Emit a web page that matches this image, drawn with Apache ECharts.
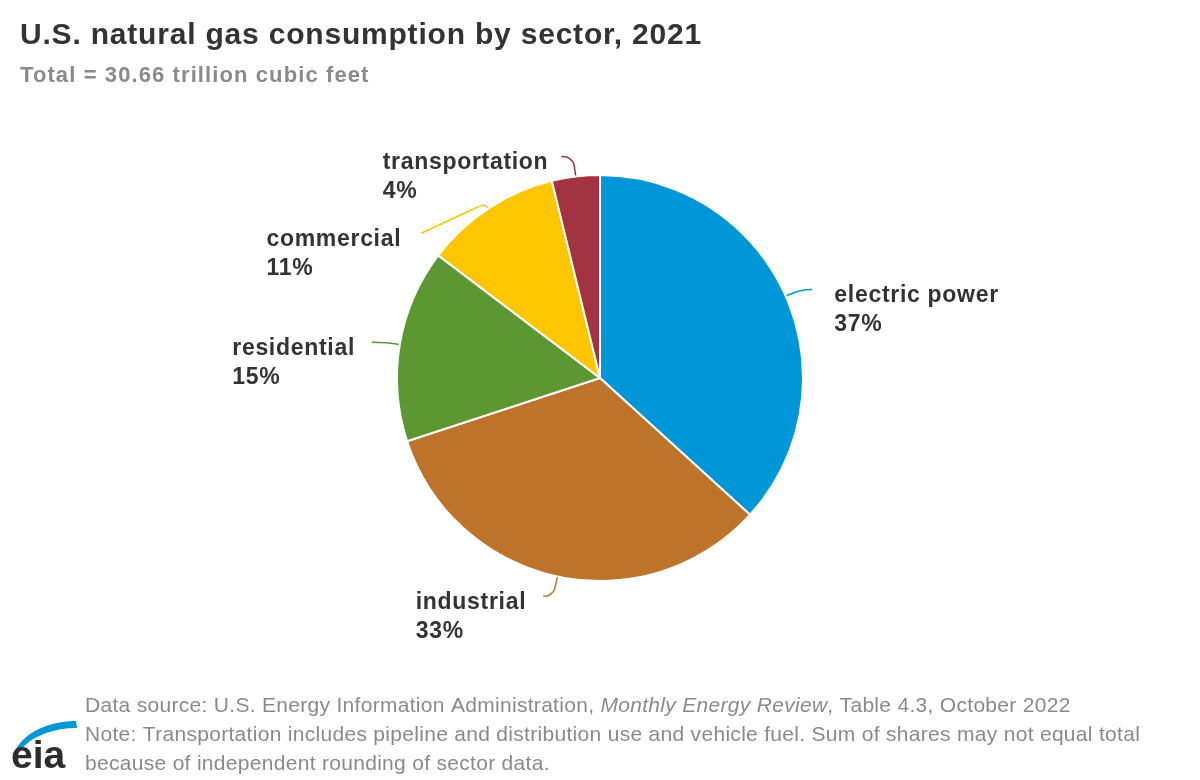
<!DOCTYPE html>
<html>
<head>
<meta charset="utf-8">
<script src="https://cdn.jsdelivr.net/npm/echarts@6/dist/echarts.min.js"></script>
<style>
html,body{margin:0;padding:0;background:#ffffff;}
#chart{width:1200px;height:780px;}
</style>
</head>
<body>
<div id="chart"></div>
<script>
// ---- data ----
const categories = ['electric power', 'industrial', 'residential', 'commercial', 'transportation'];
const values = [11.27, 10.18, 4.71, 3.33, 1.17]; // trillion cubic feet, 2021
const colors = ['#0096d7', '#bd732a', '#5d9732', '#fec600', '#a33340'];
const titleText = 'U.S. natural gas consumption by sector, 2021';
const subtitleText = 'Total = 30.66 trillion cubic feet';
const sourceLine1a = 'Data source: U.S. Energy Information Administration, ';
const sourceLine1b = 'Monthly Energy Review';
const sourceLine1c = ', Table 4.3, October 2022';
const noteLine2 = 'Note: Transportation includes pipeline and distribution use and vehicle fuel. Sum of shares may not equal total';
const noteLine3 = 'because of independent rounding of sector data.';

// ---- text tracking (the reference typography is slightly letter-spaced) ----
(function () {
  const P = window.CanvasRenderingContext2D && CanvasRenderingContext2D.prototype;
  if (!P || !('letterSpacing' in P)) return;
  const trackBySize = {30: 0.8, 22: 1.1, 23: 0.7, 21: 0.3};
  function track(font) {
    const m = /(\d+(?:\.\d+)?)px/.exec(font || '');
    const s = m ? Math.round(parseFloat(m[1])) : 0;
    return (trackBySize[s] || 0) + 'px';
  }
  const ft = P.fillText, mt = P.measureText;
  P.fillText = function () { this.letterSpacing = track(this.font); return ft.apply(this, arguments); };
  P.measureText = function () { this.letterSpacing = track(this.font); return mt.apply(this, arguments); };
})();

const FONT = '"Liberation Sans", Arial, Helvetica, sans-serif';
const chart = echarts.init(document.getElementById('chart'), null, {renderer: 'canvas'});

// label-line styling per sector (lengths in px, end nudge, label gap)
const lineStyleBySector = {
  'electric power': {length: 16, length2: 12, gap: 22},
  'industrial': {length: 20, length2: 10, gap: 17},
  'residential': {length: 14, length2: 14, gap: 17},
  'commercial': {length: 6, length2: 64, gap: 20, endDy: 30},
  'transportation': {length: 20, length2: 12, gap: 13}
};

const pieData = categories.map((name, i) => ({
  name: name,
  value: values[i],
  itemStyle: {color: colors[i]},
  labelLine: {
    length: lineStyleBySector[name].length,
    length2: lineStyleBySector[name].length2,
    lineStyle: {color: colors[i]}
  }
}));

// logo swoosh (crescent built from two elliptical arcs)
function swooshPoints() {
  const pts = [];
  const n = 30;
  for (let k = 0; k <= n; k++) {
    const a = Math.PI * (1.06 + 0.44 * k / n);
    pts.push([76 + 64 * Math.cos(a), 764 + 43 * Math.sin(a)]);
  }
  for (let k = n; k >= 0; k--) {
    const a = Math.PI * (1.075 + 0.425 * k / n);
    pts.push([77 + 62 * Math.cos(a), 766 + 38 * Math.sin(a)]);
  }
  return pts;
}

const option = {
  animation: false,
  backgroundColor: '#ffffff',
  title: [
    {
      text: titleText, left: 20, top: 20, padding: 0,
      textStyle: {fontFamily: FONT, fontSize: 30, fontWeight: 'bold', color: '#333333'}
    },
    {
      text: subtitleText, left: 20, top: 64, padding: 0,
      textStyle: {fontFamily: FONT, fontSize: 22, fontWeight: 'bold', color: '#8a8a8a'}
    }
  ],
  series: [{
    type: 'pie',
    center: [600, 378],
    radius: 203,
    startAngle: 90,
    clockwise: true,
    percentPrecision: 0,
    avoidLabelOverlap: false,
    itemStyle: {borderColor: '#ffffff', borderWidth: 2},
    label: {
      show: true,
      position: 'outside',
      formatter: '{b}\n{d}%',
      fontFamily: FONT,
      fontSize: 23,
      fontWeight: 'bold',
      color: '#333333',
      lineHeight: 29
    },
    labelLine: {show: true, smooth: 0.5, lineStyle: {width: 1.5}},
    labelLayout: function (p) {
      const pts = p.labelLinePoints;
      if (!pts) return {};
      const cfg = lineStyleBySector[categories[p.dataIndex]] || {};
      const newPts = pts.map(q => [q[0], q[1]]);
      const last = newPts[newPts.length - 1];
      last[1] += cfg.endDy || 0;
      const right = last[0] >= newPts[0][0];
      const gap = cfg.gap || 16;
      const x = right ? last[0] + gap : last[0] - gap - p.labelRect.width;
      return {x: x, y: last[1] - 8, align: 'left', verticalAlign: 'top', labelLinePoints: newPts};
    },
    data: pieData
  }],
  graphic: [
    {
      type: 'text', x: 85, y: 691.5,
      style: {
        text: '{n|' + sourceLine1a + '}{i|' + sourceLine1b + '}{n|' + sourceLine1c + '}\n{n|' + noteLine2 + '}\n{n|' + noteLine3 + '}',
        rich: {
          n: {fontFamily: FONT, fontSize: 21, fill: '#8a8a8a', lineHeight: 29},
          i: {fontFamily: FONT, fontSize: 21, fontStyle: 'italic', fill: '#8a8a8a', lineHeight: 29}
        }
      }
    },
    {
      type: 'polygon',
      shape: {points: swooshPoints()},
      style: {fill: '#0096d7'}
    },
    {
      type: 'text', x: 11, y: 738,
      style: {text: 'eia', fontFamily: FONT, fontSize: 39, fontWeight: 'bold', fill: '#2d2d2d'}
    }
  ]
};
chart.setOption(option);
</script>
</body>
</html>
